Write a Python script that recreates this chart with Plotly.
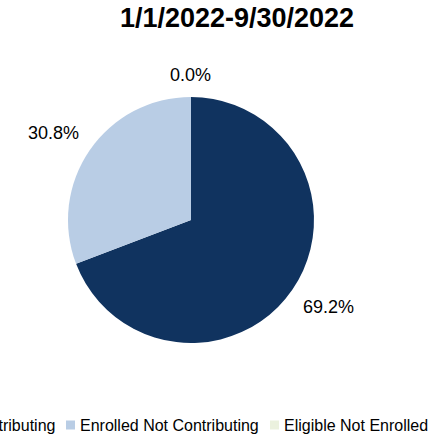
import math
import plotly.graph_objects as go

# Participation breakdown for the period
title_text = "1/1/2022-9/30/2022"
categories = ["Enrolled Contributing", "Enrolled Not Contributing", "Eligible Not Enrolled"]
shares = [69.2, 30.8, 0.0]
colors = ["#10335f", "#b9cde5", "#ebf1de"]

W, H = 442, 435
FONT = "Liberation Sans, Arial, sans-serif"


def fx(px):
    return px / W


def fy(py):
    return 1 - py / H


# pie placement (pixels): centre and radius
cx, cy, r = 191, 220, 123

fig = go.Figure(
    go.Pie(
        labels=categories,
        values=shares,
        marker=dict(colors=colors, line=dict(width=0)),
        sort=False,
        direction="clockwise",
        rotation=0,
        textinfo="none",
        domain=dict(x=[fx(cx - r), fx(cx + r)], y=[fy(cy + r), fy(cy - r)]),
        hoverinfo="skip",
        showlegend=False,
    )
)

annotations = []

# percentage labels just outside each slice, at the slice's mid-angle
total = sum(shares)
label_r = r + 10
start = 0.0
for v in shares:
    mid = (start + v / 2) / total * 2 * math.pi  # clockwise from 12 o'clock
    start += v
    dx, dy = math.sin(mid), -math.cos(mid)  # dy: pixel direction (down = +)
    xa = "left" if dx > 0.05 else ("right" if dx < -0.05 else "center")
    ya = "top" if dy > 0.05 else ("bottom" if dy < -0.05 else "middle")
    annotations.append(dict(
        text=f"{v:.1f}%", xref="paper", yref="paper",
        x=fx(cx + label_r * dx), y=fy(cy + label_r * dy),
        xanchor=xa, yanchor=ya, showarrow=False,
        font=dict(family=FONT, size=18, color="#000000"),
    ))

# legend row along the bottom
legend_y = 425
sq = 9
legend_items = [
    # (square left edge px, text left edge px)
    (-110, -96),
    (66, 78),
    (270, 282),
]
shapes = []
for (sx, tx), name, col in zip(legend_items, categories, colors):
    shapes.append(dict(
        type="rect", xref="paper", yref="paper",
        x0=fx(sx), x1=fx(sx + sq),
        y0=fy(legend_y + sq / 2), y1=fy(legend_y - sq / 2),
        fillcolor=col, line=dict(width=0),
    ))
    annotations.append(dict(
        text=name, xref="paper", yref="paper",
        x=fx(tx), y=fy(legend_y), xanchor="left", yanchor="middle",
        showarrow=False, font=dict(family=FONT, size=16, color="#000000"),
    ))

fig.update_layout(
    width=W, height=H,
    margin=dict(l=0, r=0, t=0, b=0),
    paper_bgcolor="#ffffff",
    plot_bgcolor="#ffffff",
    title=dict(
        text=f"<b>{title_text}</b>",
        x=fx(237), y=fy(18), xanchor="center", yanchor="middle",
        xref="container", yref="container",
        font=dict(family=FONT, size=27, color="#000000"),
    ),
    shapes=shapes,
    annotations=annotations,
)

fig.write_html("out.html")
